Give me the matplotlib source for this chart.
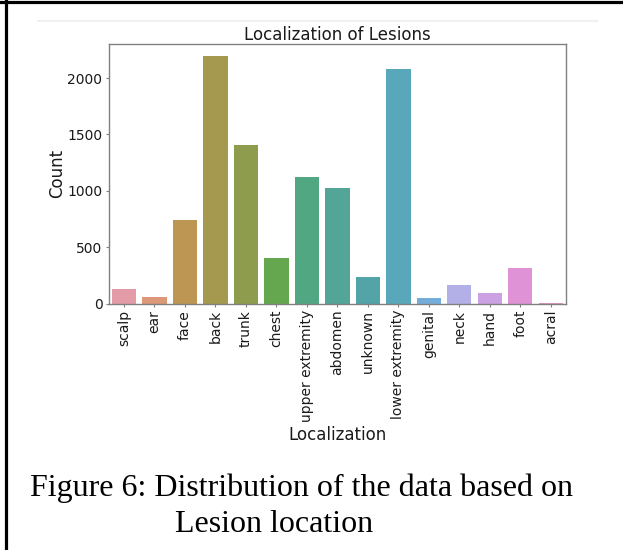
import matplotlib
matplotlib.use("Agg")
import matplotlib.pyplot as plt
import seaborn as sns
from matplotlib.lines import Line2D

# lesion location counts
locations = ["scalp", "ear", "face", "back", "trunk", "chest",
             "upper extremity", "abdomen", "unknown", "lower extremity",
             "genital", "neck", "hand", "foot", "acral"]
counts = [128, 56, 745, 2192, 1404, 407, 1118, 1022, 234, 2077,
          48, 168, 90, 319, 7]

caption_line1 = "Figure 6: Distribution of the data based on"
caption_line2 = "Lesion location"

W, H = 623, 550
fig = plt.figure(figsize=(W / 100, H / 100), dpi=100)
ax = fig.add_axes([108.7 / W, 1 - 303.6 / H, (566 - 108.7) / W, (303.6 - 44) / H])

colors = [sns.desaturate(c, 0.64)
          for c in sns.husl_palette(len(locations), l=0.70, s=0.9)]
x = range(len(locations))
ax.bar(x, counts, width=0.8, color=colors)
ax.set_xlim(-0.5, len(locations) - 0.5)

ax.set_xticks(list(x))
ax.set_xticklabels(locations, rotation=90)
ax.set_yticks([0, 500, 1000, 1500, 2000])
ax.tick_params(axis="both", labelsize=10, length=2.5, width=0.8,
               color="#808080", labelcolor="#1a1a1a", pad=2)
for s in ax.spines.values():
    s.set_color("#808080")
    s.set_linewidth(1.0)

ax.set_title("Localization of Lesions", fontsize=12, color="#1a1a1a", pad=3)
ax.set_xlabel("Localization", fontsize=12, color="#1a1a1a", labelpad=3)
ax.set_ylabel("Count", fontsize=12, color="#1a1a1a", labelpad=1)

# thin grey rule above the chart and the page border
fig.add_artist(Line2D([38 / W, 597 / W], [1 - 21 / H, 1 - 21 / H],
                      color="#f0f0f0", lw=1.5))
fig.add_artist(Line2D([0, 1], [1 - 1.5 / H, 1 - 1.5 / H], color="black", lw=2.3))
fig.add_artist(Line2D([5.5 / W, 5.5 / W], [0, 1], color="black", lw=2.3))

# caption
fig.text(30 / W, 1 - 495.7 / H, caption_line1, fontsize=23,
         family="Liberation Serif", ha="left", va="baseline")
fig.text(175 / W, 1 - 532 / H, caption_line2, fontsize=23,
         family="Liberation Serif", ha="left", va="baseline")

fig.savefig("out.png", dpi=100)
